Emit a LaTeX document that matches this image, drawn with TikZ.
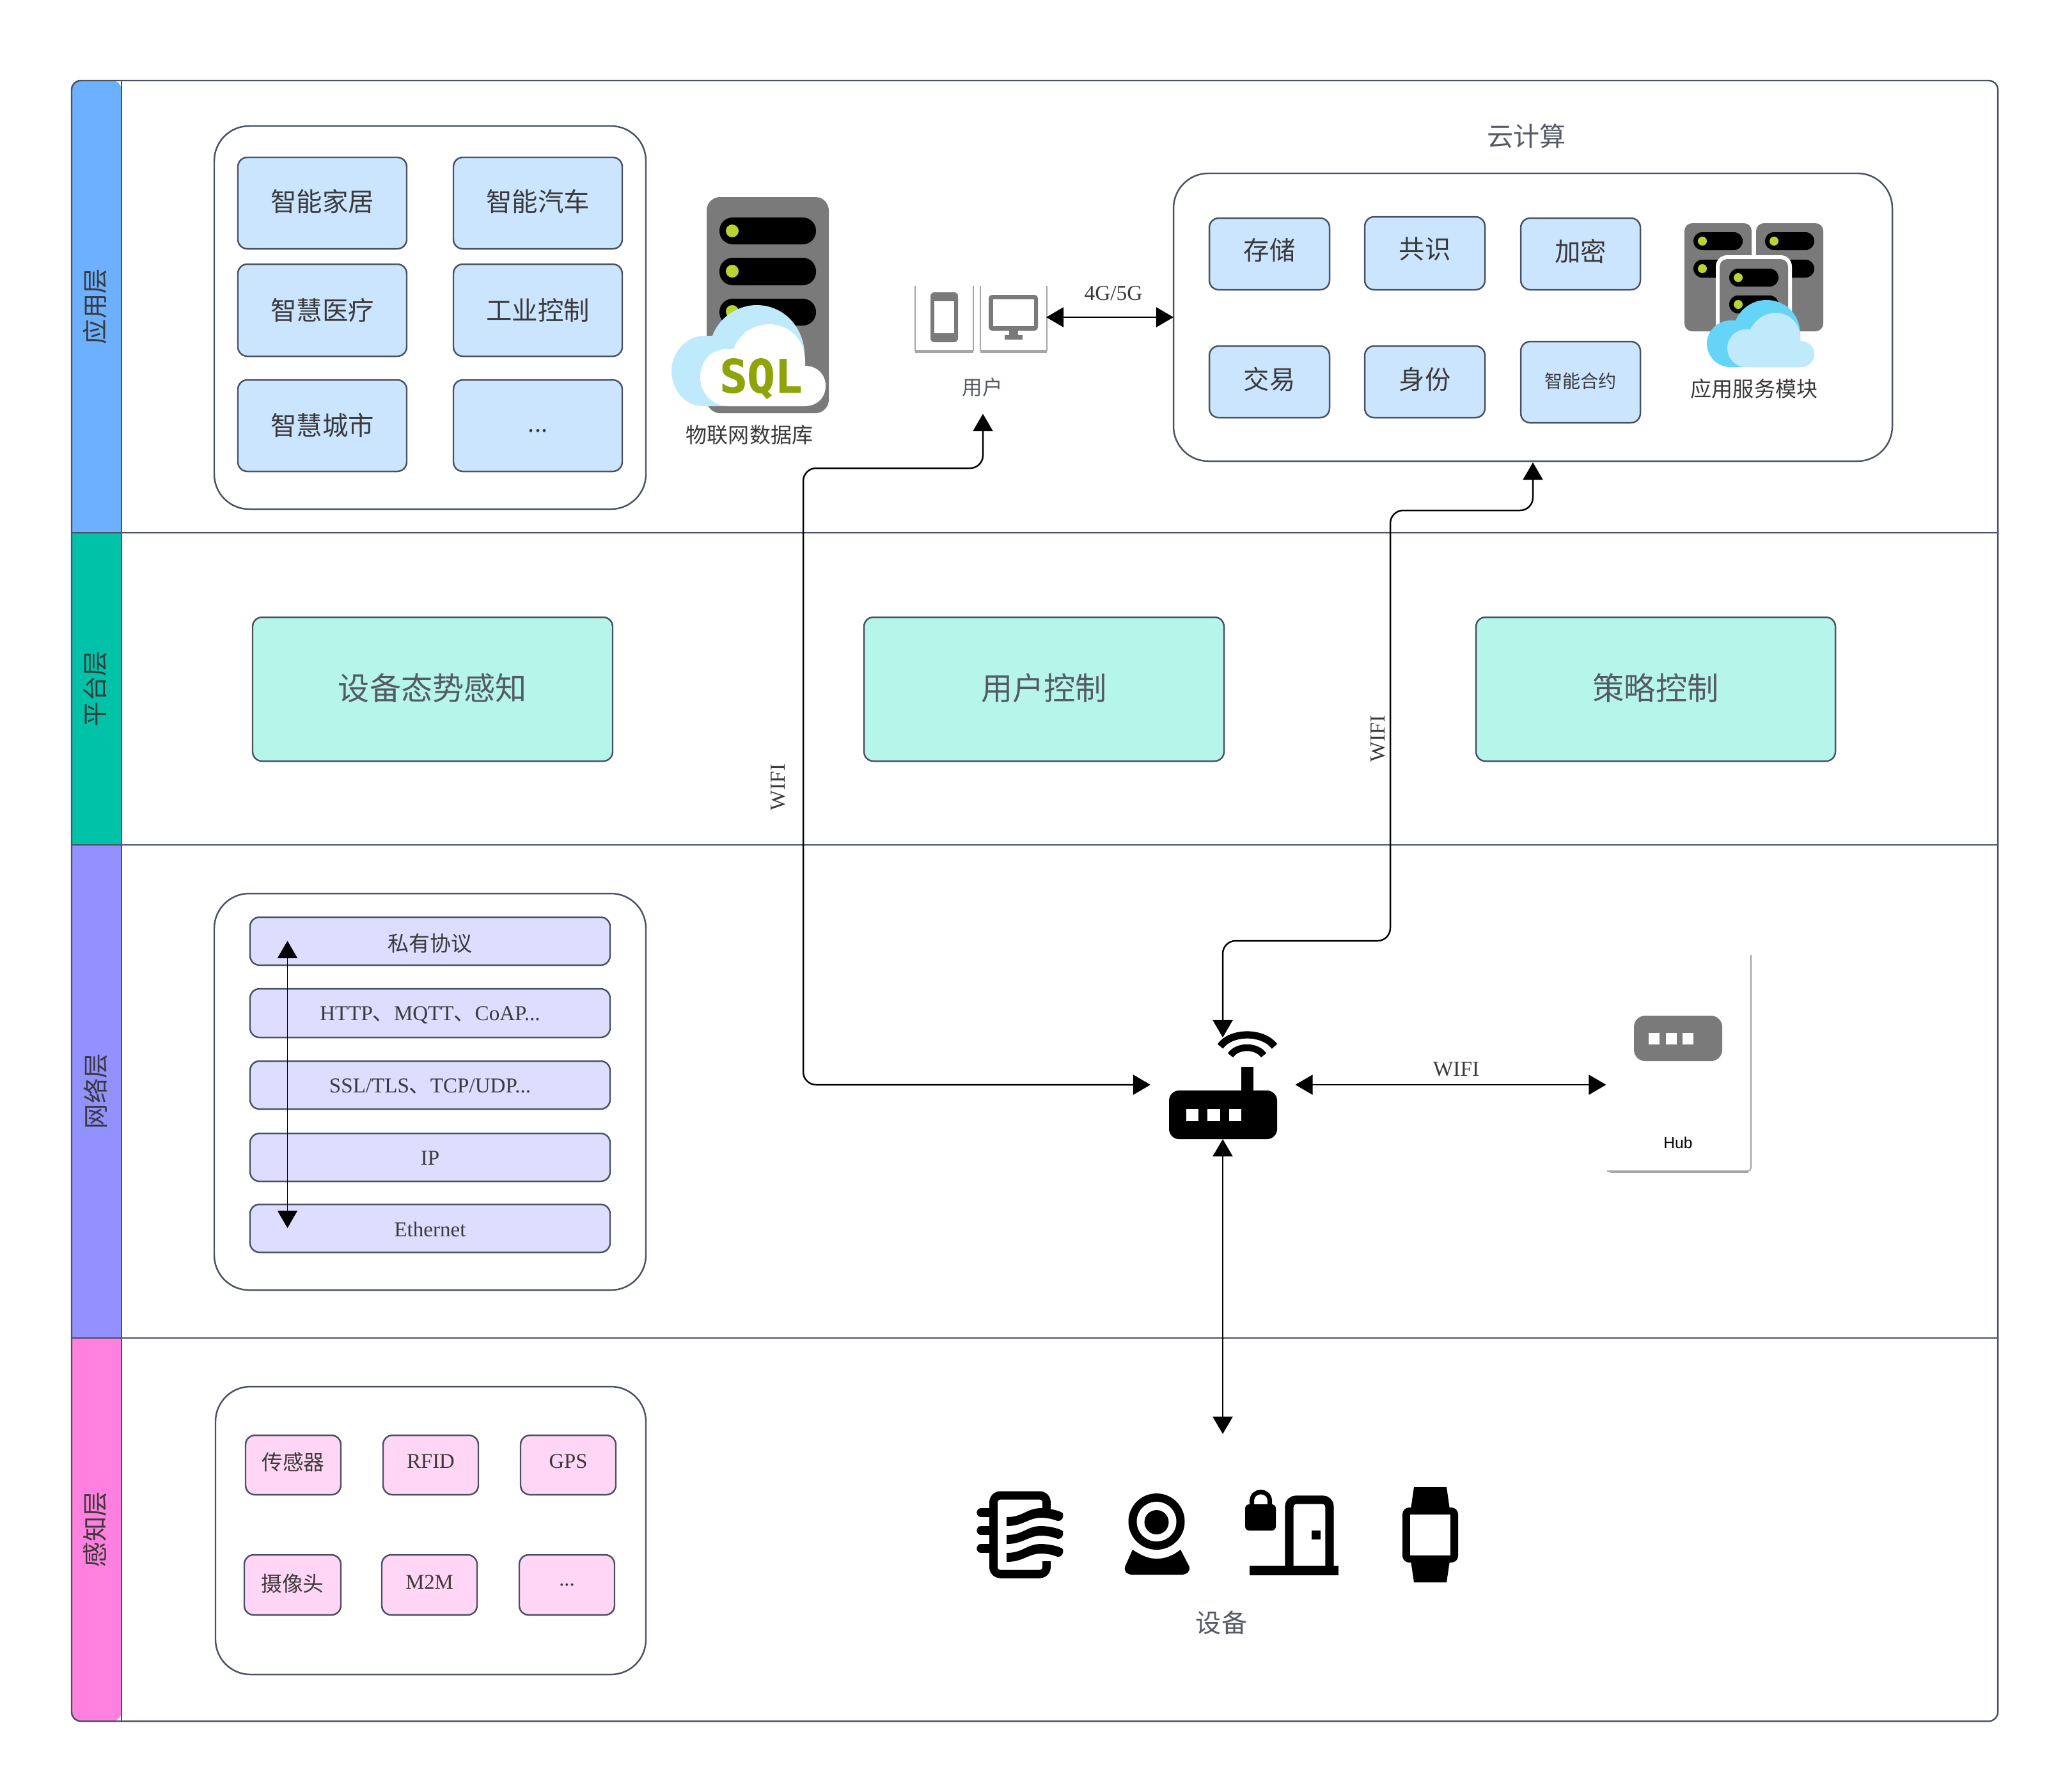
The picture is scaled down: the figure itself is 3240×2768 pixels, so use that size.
\documentclass[tikz,border=0pt]{standalone}
\usepackage{fontspec}
\setmainfont{Liberation Serif}
\setsansfont{Liberation Sans}
\newfontfamily\cjk{Noto Sans CJK SC}
\newfontfamily\mono[BoldFeatures={FakeBold=1.5}]{DejaVu Sans Mono}
\usetikzlibrary{arrows.meta}
\definecolor{edgeC}{HTML}{4A5162}
\definecolor{txtC}{HTML}{3A3A3A}
\definecolor{softC}{HTML}{555A66}
\definecolor{grayC}{HTML}{7A7A7A}
\definecolor{tileRim}{HTML}{A6A6A6}
\definecolor{ledC}{HTML}{B8D432}
\definecolor{paleC}{HTML}{BFEAFC}
\definecolor{skyC}{HTML}{66D4F7}
\definecolor{sqlC}{HTML}{8EA40A}
\tikzset{
  x=0.01cm,y=-0.01cm,
  lane/.style={draw=edgeC,line width=0.7pt},
  lanetext/.style={font=\cjk\fontsize{11.2}{13}\selectfont,text=txtC,rotate=90,inner sep=0pt},
  groupbox/.style={draw=edgeC,fill=white,line width=0.7pt,rounded corners=15.5pt},
  boxbase/.style={draw=edgeC,line width=0.7pt,rounded corners=4.2pt,inner sep=0pt,align=center,text=txtC},
  bluebox/.style={boxbase,fill=blueT,font=\cjk\fontsize{11.5}{13}\selectfont},
  tealbox/.style={boxbase,fill=tealT,text=softC,font=\cjk\fontsize{14}{16}\selectfont},
  protobox/.style={boxbase,fill=protoT,font=\fontsize{9.4}{11}\selectfont},
  pinkbox/.style={boxbase,fill=pinkT,font=\fontsize{9.3}{11}\selectfont},
  textlabel/.style={inner sep=0pt,text=txtC,font=\cjk\fontsize{9.4}{11}\selectfont},
  softlabel/.style={textlabel,text=softC},
  wire/.style={draw=black,line width=0.7pt,{Triangle[length=7.7pt,width=8.8pt]}-{Triangle[length=7.7pt,width=8.8pt]}},
  thinwire/.style={wire,line width=0.5pt},
  bendy/.style={rounded corners=5.7pt},
  wirelabel/.style={inner sep=0pt,text=txtC,font=\fontsize{9.5}{11}\selectfont},
}
\definecolor{blueT}{HTML}{CCE5FF}
\definecolor{tealT}{HTML}{B5F5EA}
\definecolor{protoT}{HTML}{DDDDFF}
\definecolor{pinkT}{HTML}{FFD6F5}
\definecolor{hdrA}{HTML}{6CB0FF}
\definecolor{hdrB}{HTML}{00C2A8}
\definecolor{hdrC}{HTML}{9391FF}
\definecolor{hdrD}{HTML}{FF80DF}
\newcommand\tile[7][bluebox]{%
  \node[#1,minimum width={(#4-#2)*0.01cm},minimum height={(#5-#3)*0.01cm}] (#6) at ({(#2+#4)/2},{(#3+#5)/2}) {#7};}
\newcommand\slot[4]{\fill[black,rounded corners=#4pt] (#1,#2) rectangle ++(#3);}
\newcommand\lift[2]{\raisebox{#1}[\height][\depth]{#2}}
\begin{document}
\begin{tikzpicture}
\useasboundingbox[fill=white] (0,0) rectangle (3240,2768);
% swimlane headers
\fill[hdrA] (190,833) -- (112,833) [rounded corners=4pt] -- (112,126) -- (190,126) [sharp corners] -- cycle;
\fill[hdrB] (112,833) rectangle (190,1321);
\fill[hdrC] (112,1321) rectangle (190,2092);
\fill[hdrD] (190,2092) -- (112,2092) [rounded corners=4pt] -- (112,2691) -- (190,2691) [sharp corners] -- cycle;
\draw[lane,rounded corners=4pt] (112,126) rectangle (3124,2691);
\draw[lane] (190,126) -- (190,2691);
\draw[lane] (112,833) -- (3124,833);
\draw[lane] (112,1321) -- (3124,1321);
\draw[lane] (112,2092) -- (3124,2092);
\node[lanetext] (hA) at (149,479) {应用层};
\node[lanetext] (hB) at (149,1077) {平台层};
\node[lanetext] (hC) at (149,1706) {网络层};
\node[lanetext] (hD) at (149,2391) {感知层};
% application group
\tile[groupbox]{335}{197}{1010}{796}{gApp}{}
\tile{372}{246}{636}{389}{a1}{\lift{0.6pt}{智能家居}}
\tile{709}{246}{973}{389}{a2}{\lift{0.6pt}{智能汽车}}
\tile{372}{413}{636}{557}{a3}{智慧医疗}
\tile{709}{413}{973}{557}{a4}{工业控制}
\tile{372}{594}{636}{737}{a5}{智慧城市}
\tile{709}{594}{973}{737}{a6}{\fontsize{11.4}{13}\selectfont\rmfamily\lift{-2.2pt}{...}}
% sql server
\fill[grayC,rounded corners=6pt] (1105,308) rectangle (1296,646);
\slot{1125}{340}{151,42}{5.9}
\slot{1125}{403}{151,43}{5.9}
\slot{1125}{467}{151,42}{5.9}
\fill[ledC] (1145,361) circle[radius=10];
\fill[ledC] (1145,424) circle[radius=10];
\fill[ledC] (1145,487) circle[radius=10];
\fill[paleC] (1100,635) .. controls (1070,635) and (1050,608) .. (1050,580) .. controls (1050,550) and (1075,525) .. (1100,525) -- (1114,525) .. controls (1125,495) and (1155,477) .. (1183,477) .. controls (1225,477) and (1255,510) .. (1258,550) -- (1258,635) -- cycle;
\fill[white] (1139,635) .. controls (1115,635) and (1095,615) .. (1095,590) .. controls (1095,565) and (1112,546) .. (1135,546) -- (1147,546) .. controls (1155,522) and (1178,507) .. (1203,507) .. controls (1235,507) and (1259,532) .. (1259,565) -- (1259,572) .. controls (1278,572) and (1291,586) .. (1291,603) .. controls (1291,622) and (1277,635) .. (1259,635) -- cycle;
\node[inner sep=0pt,text=sqlC,font=\mono\bfseries\fontsize{20.3}{22}\selectfont] (sql) at (1190,592) {SQL};
\node[textlabel] (dbl) at (1172,680) {物联网数据库};
% user devices
\draw[tileRim,line width=0.6pt] (1431,447) -- (1431,548) -- (1522,548) -- (1522,447);
\draw[tileRim,line width=1pt] (1431,550) -- (1522,550);
\draw[tileRim,line width=0.6pt] (1533,447) -- (1533,548) -- (1637,548) -- (1637,447);
\draw[tileRim,line width=1pt] (1533,550) -- (1637,550);
\fill[grayC,rounded corners=1.7pt] (1455,457) rectangle (1498,535);
\fill[white] (1461,471) rectangle (1492,521);
\fill[grayC,rounded corners=1.5pt] (1546,461) rectangle (1623,517);
\fill[white] (1553,468) rectangle (1617,510);
\fill[grayC] (1578,517) rectangle (1592,525);
\fill[grayC] (1571,524) rectangle (1599,531);
\node[softlabel,font=\cjk\fontsize{9}{11}\selectfont] (usr) at (1536,605) {用户};
% cloud group
\node[softlabel,font=\cjk\fontsize{11.7}{13}\selectfont] (ctitle) at (2387,213) {云计算};
\tile[groupbox]{1835}{271}{2959}{721}{gCloud}{}
\tile{1891}{341}{2079}{453}{c1}{\lift{1.7pt}{存储}}
\tile{2134}{339}{2322}{453}{c2}{\lift{2pt}{共识}}
\tile{2378}{341}{2565}{453}{c3}{\lift{1.2pt}{加密}}
\tile{1891}{541}{2079}{653}{c4}{\lift{1.2pt}{交易}}
\tile{2134}{541}{2322}{653}{c5}{\lift{1.2pt}{身份}}
\tile[bluebox,font=\cjk\fontsize{8}{10}\selectfont]{2378}{534}{2565}{661}{c6}{\lift{0.6pt}{智能合约}}
% service module icon
\fill[grayC,rounded corners=3.4pt] (2634,349) rectangle (2739,518);
\fill[grayC,rounded corners=3.4pt] (2746,349) rectangle (2851,518);
\slot{2648}{363}{77,28}{3.9}
\slot{2648}{406}{77,28}{3.9}
\slot{2760}{363}{77,28}{3.9}
\slot{2760}{406}{77,28}{3.9}
\fill[ledC] (2662,377) circle[radius=7];
\fill[ledC] (2662,420) circle[radius=7];
\fill[ledC] (2774,377) circle[radius=7];
\fill[ledC] (2774,420) circle[radius=7];
\fill[white,rounded corners=5pt] (2683,399) rectangle (2802,565);
\fill[grayC,rounded corners=3.4pt] (2689,405) rectangle (2796,560);
\slot{2704}{420}{77,28}{3.9}
\slot{2704}{462}{77,28}{3.9}
\fill[ledC] (2718,434) circle[radius=7];
\fill[ledC] (2718,476) circle[radius=7];
\fill[skyC] (2706,574) .. controls (2686,574) and (2669,558) .. (2669,537) .. controls (2669,517) and (2686,501) .. (2706,501) -- (2714,501) .. controls (2722,482) and (2741,469) .. (2762,469) .. controls (2792,469) and (2815,492) .. (2815,522) -- (2815,574) -- cycle;
\fill[paleC] (2730,574) .. controls (2714,574) and (2701,561) .. (2701,544) .. controls (2701,528) and (2714,515) .. (2730,515) -- (2737,515) .. controls (2744,500) and (2760,489) .. (2777,489) .. controls (2798,489) and (2815,506) .. (2815,527) -- (2815,533) .. controls (2828,533) and (2837,542) .. (2837,553) .. controls (2837,565) and (2828,574) .. (2817,574) -- cycle;
\node[textlabel] (svc) at (2743,608) {应用服务模块};
% platform
\tile[tealbox]{395}{965}{958}{1190}{p1}{\lift{0.6pt}{设备态势感知}}
\tile[tealbox]{1351}{965}{1914}{1190}{p2}{\lift{0.6pt}{用户控制}}
\tile[tealbox]{2308}{965}{2870}{1190}{p3}{\lift{0.6pt}{策略控制}}
% network group
\tile[groupbox]{335}{1397}{1010}{2017}{gNet}{}
\tile[protobox,font=\cjk\fontsize{9.4}{11}\selectfont]{391}{1434}{954}{1509}{n1}{\lift{-1pt}{私有协议}}
\tile[protobox]{391}{1546}{954}{1622}{n2}{\lift{-0.9pt}{HTTP{\cjk 、}MQTT{\cjk 、}CoAP...}}
\tile[protobox]{391}{1659}{954}{1734}{n3}{\lift{-0.5pt}{SSL/TLS{\cjk 、}TCP/UDP...}}
\tile[protobox]{391}{1772}{954}{1847}{n4}{\lift{-0.3pt}{IP}}
\tile[protobox]{391}{1883}{954}{1958}{n5}{\lift{-0.4pt}{Ethernet}}
\coordinate (stackT) at (449.5,1471);
\coordinate (stackB) at (449.5,1920);
\draw[thinwire] (stackT) -- (stackB);
% router
\node[fill=black,rounded corners=4.5pt,inner sep=0pt,minimum width={169*0.01cm},minimum height={76*0.01cm}] (router) at (1912.5,1743) {};
\fill[white] (1855,1734) rectangle (1874,1753);
\fill[white] (1888,1734) rectangle (1908,1753);
\fill[white] (1922,1734) rectangle (1941,1753);
\fill[black] (1941,1668) rectangle (1960,1705);
\draw[black,line width=3.2pt] (1908,1636) .. controls (1925,1612) and (1975,1612) .. (1993,1636);
\draw[black,line width=3.0pt] (1924,1650) .. controls (1935,1634) and (1965,1634) .. (1976,1650);
% hub
\draw[tileRim,line width=0.6pt,rounded corners=1.5pt] (2738,1493) -- (2738,1831) -- (2513,1831);
\draw[tileRim,line width=1pt] (2518,1832.5) -- (2734,1832.5);
\node[fill=grayC,rounded corners=5pt,inner sep=0pt,minimum width={138*0.01cm},minimum height={71*0.01cm}] (hubdev) at (2624,1623.5) {};
\fill[white] (2578,1615) rectangle (2595,1633);
\fill[white] (2605,1615) rectangle (2622,1633);
\fill[white] (2631,1615) rectangle (2648,1633);
\node[inner sep=0pt,font=\sffamily\fontsize{7}{8}\selectfont] (hubl) at (2624,1787) {Hub};
% perception group
\tile[groupbox]{337}{2168}{1010}{2618}{gPer}{}
\tile[pinkbox,font=\cjk\fontsize{9.3}{11}\selectfont]{384}{2244}{533}{2337}{s1}{\lift{1.2pt}{传感器}}
\tile[pinkbox]{599}{2244}{748}{2337}{s2}{\lift{1.7pt}{RFID}}
\tile[pinkbox]{814}{2244}{963}{2337}{s3}{\lift{1.7pt}{GPS}}
\tile[pinkbox,font=\cjk\fontsize{9.3}{11}\selectfont]{382}{2431}{533}{2525}{s4}{\lift{0.5pt}{摄像头}}
\tile[pinkbox]{597}{2431}{746}{2525}{s5}{\lift{1.2pt}{M2M}}
\tile[pinkbox]{812}{2431}{961}{2525}{s6}{...}
% devices: icon 1
\draw[black,line width=3.7pt,line join=round,rounded corners=3pt] (1636.5,2359) -- (1636.5,2338) -- (1553.5,2338) -- (1553.5,2461) -- (1636.5,2461) -- (1636.5,2441);
\foreach \d in {0,28,56}{
  \draw[black,line width=3.8pt,line cap=round] (1534,2365+\d) -- (1547,2365+\d);
  \fill[black] (1574,2372+\d) -- (1574,2386+\d) .. controls (1600,2386+\d) and (1608,2373+\d) .. (1628,2373+\d) .. controls (1640,2373+\d) and (1648,2376+\d) .. (1654,2378+\d) .. controls (1660,2379+\d) and (1664,2372+\d) .. (1662,2366+\d) .. controls (1658,2362+\d) and (1640,2358+\d) .. (1628,2358+\d) .. controls (1605,2358+\d) and (1600,2372+\d) .. cycle;
}
% icon 2
\fill[black] (1808.5,2379) circle[radius=44];
\fill[white] (1808.5,2379) circle[radius=31];
\fill[black] (1808.5,2380) circle[radius=19];
\fill[black] (1771,2423) .. controls (1785,2432) and (1795,2437) .. (1809,2437) .. controls (1823,2437) and (1834,2432) .. (1846,2423) -- (1860,2450) .. controls (1861,2456) and (1857,2462) .. (1847,2462) -- (1771,2462) .. controls (1762,2462) and (1757,2456) .. (1759,2450) -- cycle;
% icon 3
\fill[black,rounded corners=1.8pt] (1947,2352) rectangle (1995,2393);
\draw[black,line width=2pt] (1957.5,2354) -- (1957.5,2347) .. controls (1957.5,2328) and (1985.5,2328) .. (1985.5,2347) -- (1985.5,2354);
\draw[black,line width=3.8pt,rounded corners=3pt] (2016,2450) -- (2016,2345) -- (2079,2345) -- (2079,2450);
\fill[black] (1954,2448) rectangle (2093,2463);
\fill[black] (2051,2393) rectangle (2065,2407);
% icon 4
\fill[black] (2211,2325) -- (2262,2325) -- (2267,2360) -- (2206,2360) -- cycle;
\fill[black] (2206,2440) -- (2267,2440) -- (2262,2474) -- (2211,2474) -- cycle;
\fill[black,rounded corners=3pt] (2193,2357) rectangle (2280,2443);
\fill[white] (2205,2368) rectangle (2268,2432);
\node[softlabel,font=\cjk\fontsize{11.4}{13}\selectfont] (devl) at (1910,2537) {设备};
% connectors
\coordinate (userPort) at (1537,647);
\coordinate (u1) at (1537,732);
\coordinate (u2) at (1256,732);
\coordinate (u3) at (1256,1696);
\coordinate (routerW) at (1799,1696);
\draw[wire,bendy] (userPort) -- (u1) -- (u2) -- (u3) -- (routerW);
\coordinate (cloudPort) at (2397,723);
\coordinate (v1) at (2397,798);
\coordinate (v2) at (2174,798);
\coordinate (v3) at (2174,1471);
\coordinate (v4) at (1912,1471);
\coordinate (routerN) at (1912,1622);
\draw[wire,bendy] (cloudPort) -- (v1) -- (v2) -- (v3) -- (v4) -- (routerN);
\coordinate (userE) at (1636,496);
\coordinate (cloudW) at (1835,496);
\draw[wire] (userE) -- (cloudW);
\coordinate (routerE) at (2025.5,1696);
\coordinate (hubW) at (2511.5,1696);
\draw[wire] (routerE) -- (hubW);
\coordinate (routerS) at (1912,1781);
\coordinate (devN) at (1912,2242);
\draw[wire] (routerS) -- (devN);
\node[wirelabel,rotate=90] (w1) at (1217,1231) {WIFI};
\node[wirelabel,rotate=90] (w2) at (2155,1155) {WIFI};
\node[wirelabel] (w3) at (2277,1672) {WIFI};
\node[wirelabel] (w4) at (1741,459) {4G/5G};
\end{tikzpicture}
\end{document}
